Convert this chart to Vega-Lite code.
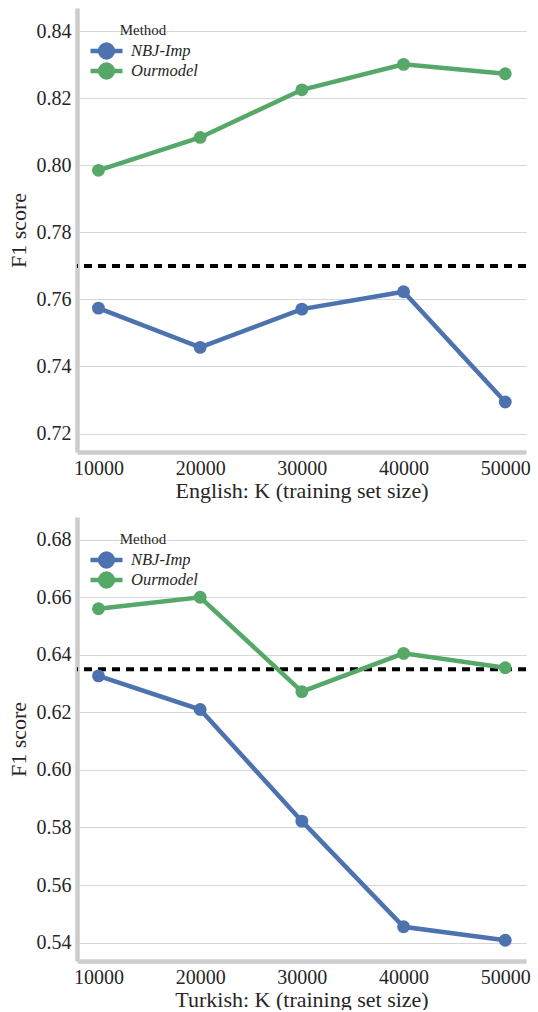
{
  "$schema": "https://vega.github.io/schema/vega-lite/v6.json",
  "padding": {"left": 7, "top": 8, "right": 5, "bottom": 0},
  "background": "white",
  "datasets": {
    "scores": [
      {"lang": "English", "K": 10000, "method": "NBJ-Imp", "f1": 0.7574},
      {"lang": "English", "K": 20000, "method": "NBJ-Imp", "f1": 0.7457},
      {"lang": "English", "K": 30000, "method": "NBJ-Imp", "f1": 0.7571},
      {"lang": "English", "K": 40000, "method": "NBJ-Imp", "f1": 0.7623},
      {"lang": "English", "K": 50000, "method": "NBJ-Imp", "f1": 0.7294},
      {"lang": "English", "K": 10000, "method": "Ourmodel", "f1": 0.7985},
      {"lang": "English", "K": 20000, "method": "Ourmodel", "f1": 0.8083},
      {"lang": "English", "K": 30000, "method": "Ourmodel", "f1": 0.8225},
      {"lang": "English", "K": 40000, "method": "Ourmodel", "f1": 0.8301},
      {"lang": "English", "K": 50000, "method": "Ourmodel", "f1": 0.8273},
      {"lang": "Turkish", "K": 10000, "method": "NBJ-Imp", "f1": 0.6327},
      {"lang": "Turkish", "K": 20000, "method": "NBJ-Imp", "f1": 0.621},
      {"lang": "Turkish", "K": 30000, "method": "NBJ-Imp", "f1": 0.5822},
      {"lang": "Turkish", "K": 40000, "method": "NBJ-Imp", "f1": 0.5455},
      {"lang": "Turkish", "K": 50000, "method": "NBJ-Imp", "f1": 0.5408},
      {"lang": "Turkish", "K": 10000, "method": "Ourmodel", "f1": 0.656},
      {"lang": "Turkish", "K": 20000, "method": "Ourmodel", "f1": 0.660},
      {"lang": "Turkish", "K": 30000, "method": "Ourmodel", "f1": 0.6272},
      {"lang": "Turkish", "K": 40000, "method": "Ourmodel", "f1": 0.6405},
      {"lang": "Turkish", "K": 50000, "method": "Ourmodel", "f1": 0.6355}
    ],
    "baselines": [
      {"lang": "English", "baseline": 0.77},
      {"lang": "Turkish", "baseline": 0.635}
    ]
  },
  "config": {
    "view": {"stroke": null},
    "font": "Liberation Serif",
    "text": {"font": "Liberation Serif"},
    "axis": {
      "labelFont": "Liberation Serif",
      "titleFont": "Liberation Serif",
      "labelFontSize": 20,
      "titleFontSize": 22,
      "titleFontWeight": "normal",
      "labelColor": "#262626",
      "titleColor": "#262626",
      "domainColor": "#cccccc",
      "domainWidth": 4.5,
      "ticks": false,
      "labelFlush": false,
      "labelOverlap": false
    },
    "axisX": {"grid": false, "labelPadding": 6, "titlePadding": 2},
    "axisY": {"grid": true, "gridColor": "#d6d6d6", "gridWidth": 1, "labelPadding": 6, "titlePadding": 6},
    "legend": {
      "orient": "none",
      "legendX": 11,
      "legendY": 15,
      "titleFont": "Liberation Serif",
      "titleFontSize": 15,
      "titleFontWeight": "normal",
      "titleColor": "#262626",
      "titleAnchor": "middle",
      "labelFont": "Liberation Serif",
      "labelFontSize": 16.5,
      "labelFontStyle": "italic",
      "labelColor": "#262626",
      "labelOffset": 18,
      "symbolType": "M-1,0L2.2,0M-0.04,0A0.64,0.64,0,1,0,1.24,0A0.64,0.64,0,1,0,-0.04,0Z",
      "symbolSize": 400,
      "symbolStrokeWidth": 4.5,
      "clipHeight": 20,
      "rowPadding": 0,
      "titlePadding": 3
    }
  },
  "spacing": 16,
  "resolve": {"legend": {"color": "independent"}, "scale": {"y": "independent", "x": "independent", "color": "independent"}},
  "vconcat": [
    {
      "width": 449,
      "height": 444,
      "layer": [
        {
          "data": {"name": "baselines"},
          "transform": [{"filter": "datum.lang === 'English'"}],
          "mark": {"type": "rule", "color": "black", "strokeWidth": 4, "strokeDash": [8, 6]},
          "encoding": {
            "y": {"field": "baseline", "type": "quantitative", "scale": {"domain": [0.7145, 0.8469], "nice": false, "zero": false}}
          }
        },
        {
          "data": {"name": "scores"},
          "transform": [{"filter": "datum.lang === 'English'"}],
          "mark": {"type": "line", "strokeWidth": 4.5, "point": {"size": 165, "filled": true, "opacity": 1}},
          "encoding": {
            "x": {"field": "K", "type": "quantitative", "scale": {"domain": [7890, 52040], "nice": false, "zero": false},
                  "axis": {"values": [10000, 20000, 30000, 40000, 50000], "format": "d", "title": "English: K (training set size)"}},
            "y": {"field": "f1", "type": "quantitative", "scale": {"domain": [0.7145, 0.8469], "nice": false, "zero": false},
                  "axis": {"values": [0.72, 0.74, 0.76, 0.78, 0.80, 0.82, 0.84], "format": ".2f", "title": "F1 score"}},
            "color": {"field": "method", "type": "nominal",
                      "scale": {"domain": ["NBJ-Imp", "Ourmodel"], "range": ["#4c72b0", "#55a868"]},
                      "legend": {"title": "Method",
                                 "encode": {"symbols": {"update": {"fill": {"signal": "datum.value === 'NBJ-Imp' ? '#4c72b0' : '#55a868'"}, "stroke": {"signal": "datum.value === 'NBJ-Imp' ? '#4c72b0' : '#55a868'"}, "opacity": {"value": 1}}}}}}
          }
        }
      ]
    },
    {
      "width": 449,
      "height": 444,
      "layer": [
        {
          "data": {"name": "baselines"},
          "transform": [{"filter": "datum.lang === 'Turkish'"}],
          "mark": {"type": "rule", "color": "black", "strokeWidth": 4, "strokeDash": [8, 6]},
          "encoding": {
            "y": {"field": "baseline", "type": "quantitative", "scale": {"domain": [0.5336, 0.6879], "nice": false, "zero": false}}
          }
        },
        {
          "data": {"name": "scores"},
          "transform": [{"filter": "datum.lang === 'Turkish'"}],
          "mark": {"type": "line", "strokeWidth": 4.5, "point": {"size": 165, "filled": true, "opacity": 1}},
          "encoding": {
            "x": {"field": "K", "type": "quantitative", "scale": {"domain": [7890, 52040], "nice": false, "zero": false},
                  "axis": {"values": [10000, 20000, 30000, 40000, 50000], "format": "d", "title": "Turkish: K (training set size)"}},
            "y": {"field": "f1", "type": "quantitative", "scale": {"domain": [0.5336, 0.6879], "nice": false, "zero": false},
                  "axis": {"values": [0.54, 0.56, 0.58, 0.60, 0.62, 0.64, 0.66, 0.68], "format": ".2f", "title": "F1 score"}},
            "color": {"field": "method", "type": "nominal",
                      "scale": {"domain": ["NBJ-Imp", "Ourmodel"], "range": ["#4c72b0", "#55a868"]},
                      "legend": {"title": "Method",
                                 "encode": {"symbols": {"update": {"fill": {"signal": "datum.value === 'NBJ-Imp' ? '#4c72b0' : '#55a868'"}, "stroke": {"signal": "datum.value === 'NBJ-Imp' ? '#4c72b0' : '#55a868'"}, "opacity": {"value": 1}}}}}}
          }
        }
      ]
    }
  ]
}
